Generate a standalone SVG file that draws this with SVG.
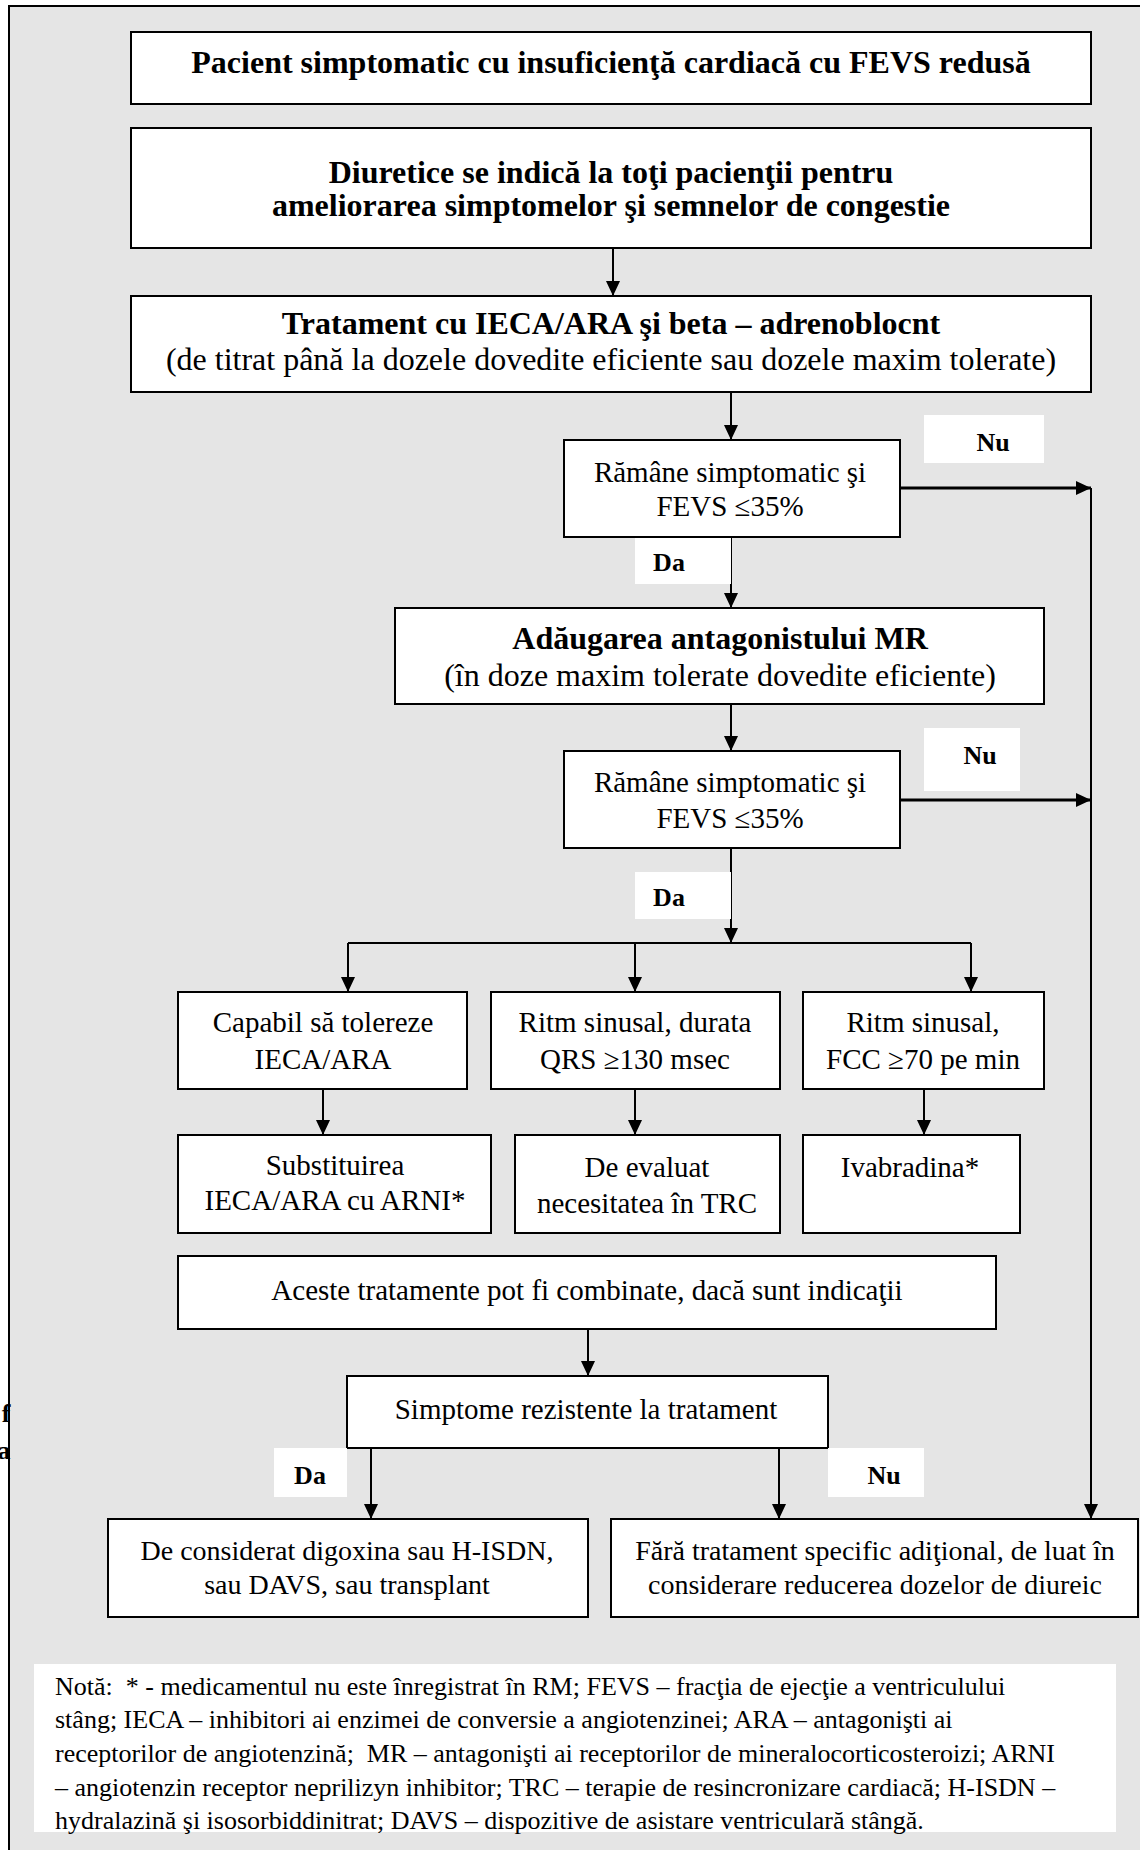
<svg xmlns="http://www.w3.org/2000/svg" width="1140" height="1850" viewBox="0 0 1140 1850">
<style>
.box{fill:#fff;stroke:#000;stroke-width:2}
.lbl{fill:#fff;stroke:none}
.t{font-family:"Liberation Serif","Times New Roman",serif;font-size:29px;fill:#000;text-anchor:middle}
.b{font-weight:bold;font-size:32px}
.r32{font-size:32px}
.r28{font-size:28px}
.lt{font-family:"Liberation Serif","Times New Roman",serif;font-weight:bold;font-size:26px;fill:#000;text-anchor:middle}
.note{font-family:"Liberation Serif","Times New Roman",serif;font-size:26px;fill:#000}
.ln{fill:none;stroke:#000;stroke-width:2}
.thick{stroke-width:3}
</style>
<defs>
<marker id="ah" markerUnits="userSpaceOnUse" markerWidth="16" markerHeight="16" refX="15" refY="7" orient="auto">
<path d="M0,0 L15,7 L0,14 z" fill="#000"/>
</marker>
</defs>
<rect x="0" y="0" width="1140" height="1850" fill="#fff"/>
<rect x="9" y="6" width="1160" height="1880" fill="#e5e5e5" stroke="#000" stroke-width="2"/>
<text class="lt" x="6" y="1422" style="font-size:26px">f</text>
<text class="lt" x="4" y="1459" style="font-size:26px">a</text>

<g id="connectors">
<line class="ln" x1="613" y1="248" x2="613" y2="296" marker-end="url(#ah)"/>
<line class="ln" x1="731" y1="392" x2="731" y2="440" marker-end="url(#ah)"/>
<line class="ln thick" x1="900" y1="488" x2="1091" y2="488" marker-end="url(#ah)"/>
<line class="ln" x1="1091" y1="488" x2="1091" y2="1519" marker-end="url(#ah)"/>
<line class="ln" x1="731" y1="537" x2="731" y2="608" marker-end="url(#ah)"/>
<line class="ln" x1="731" y1="704" x2="731" y2="751" marker-end="url(#ah)"/>
<line class="ln thick" x1="900" y1="800" x2="1091" y2="800" marker-end="url(#ah)"/>
<line class="ln" x1="731" y1="848" x2="731" y2="943" marker-end="url(#ah)"/>
<line class="ln" x1="348" y1="943" x2="971" y2="943"/>
<line class="ln" x1="348" y1="943" x2="348" y2="992" marker-end="url(#ah)"/>
<line class="ln" x1="635" y1="943" x2="635" y2="992" marker-end="url(#ah)"/>
<line class="ln" x1="971" y1="943" x2="971" y2="992" marker-end="url(#ah)"/>
<line class="ln" x1="323" y1="1089" x2="323" y2="1135" marker-end="url(#ah)"/>
<line class="ln" x1="635" y1="1089" x2="635" y2="1135" marker-end="url(#ah)"/>
<line class="ln" x1="924" y1="1089" x2="924" y2="1135" marker-end="url(#ah)"/>
<line class="ln" x1="588" y1="1329" x2="588" y2="1376" marker-end="url(#ah)"/>
<line class="ln" x1="371" y1="1448" x2="371" y2="1519" marker-end="url(#ah)"/>
<line class="ln" x1="779" y1="1448" x2="779" y2="1519" marker-end="url(#ah)"/>
</g>

<g id="n1"><rect class="box" x="131" y="32" width="960" height="72"/>
<text class="t b" x="611" y="73">Pacient simptomatic cu insuficienţă cardiacă cu FEVS redusă</text></g>
<g id="n2"><rect class="box" x="131" y="128" width="960" height="120"/>
<text class="t b" x="611" y="183">Diuretice se indică la toţi pacienţii pentru</text>
<text class="t b" x="611" y="216">ameliorarea simptomelor şi semnelor de congestie</text></g>
<g id="n3"><rect class="box" x="131" y="296" width="960" height="96"/>
<text class="t b" x="611" y="334">Tratament cu IECA/ARA şi beta – adrenoblocnt</text>
<text class="t r32" x="611" y="370">(de titrat până la dozele dovedite eficiente sau dozele maxim tolerate)</text></g>
<g id="n4"><rect class="box" x="564" y="440" width="336" height="97"/>
<text class="t" x="730" y="482">Rămâne simptomatic şi</text>
<text class="t" x="730" y="516">FEVS ≤35%</text></g>
<g id="lblNu1"><rect class="lbl" x="924" y="415" width="120" height="48"/>
<text class="lt" x="993" y="451">Nu</text></g>
<g id="lblDa1"><rect class="lbl" x="635" y="538" width="96" height="46"/>
<text class="lt" x="669" y="571">Da</text></g>
<g id="n5"><rect class="box" x="395" y="608" width="649" height="96"/>
<text class="t b" x="720" y="649">Adăugarea antagonistului MR</text>
<text class="t r32" x="720" y="686">(în doze maxim tolerate dovedite eficiente)</text></g>
<g id="n6"><rect class="box" x="564" y="751" width="336" height="97"/>
<text class="t" x="730" y="792">Rămâne simptomatic şi</text>
<text class="t" x="730" y="828">FEVS ≤35%</text></g>
<g id="lblNu2"><rect class="lbl" x="924" y="728" width="96" height="63"/>
<text class="lt" x="980" y="764">Nu</text></g>
<g id="lblDa2"><rect class="lbl" x="635" y="872" width="96" height="47"/>
<text class="lt" x="669" y="906">Da</text></g>
<g id="nA"><rect class="box" x="178" y="992" width="289" height="97"/>
<text class="t" x="323" y="1032">Capabil să tolereze</text>
<text class="t" x="323" y="1069">IECA/ARA</text></g>
<g id="nB"><rect class="box" x="491" y="992" width="289" height="97"/>
<text class="t" x="635" y="1032">Ritm sinusal, durata</text>
<text class="t" x="635" y="1069">QRS ≥130 msec</text></g>
<g id="nC"><rect class="box" x="803" y="992" width="241" height="97"/>
<text class="t" x="923" y="1032">Ritm sinusal,</text>
<text class="t" x="923" y="1069">FCC ≥70 pe min</text></g>
<g id="nD"><rect class="box" x="178" y="1135" width="313" height="98"/>
<text class="t" x="335" y="1175">Substituirea</text>
<text class="t" x="335" y="1210">IECA/ARA cu ARNI*</text></g>
<g id="nE"><rect class="box" x="515" y="1135" width="265" height="98"/>
<text class="t" x="647" y="1177">De evaluat</text>
<text class="t" x="647" y="1213">necesitatea în TRC</text></g>
<g id="nF"><rect class="box" x="803" y="1135" width="217" height="98"/>
<text class="t" x="910" y="1177">Ivabradina*</text></g>
<g id="nG"><rect class="box" x="178" y="1256" width="818" height="73"/>
<text class="t" x="587" y="1300">Aceste tratamente pot fi combinate, dacă sunt indicaţii</text></g>
<g id="nH"><rect class="box" x="347" y="1376" width="481" height="72"/>
<text class="t" x="586" y="1419">Simptome rezistente la tratament</text></g>
<g id="lblDa3"><rect class="lbl" x="274" y="1448" width="73" height="49"/>
<text class="lt" x="310" y="1484">Da</text></g>
<g id="lblNu3"><rect class="lbl" x="828" y="1448" width="96" height="49"/>
<text class="lt" x="884" y="1484">Nu</text></g>
<g id="nI"><rect class="box" x="108" y="1519" width="480" height="98"/>
<text class="t r28" x="347" y="1560">De considerat digoxina sau H-ISDN,</text>
<text class="t r28" x="347" y="1594">sau DAVS, sau transplant</text></g>
<g id="nJ"><rect class="box" x="611" y="1519" width="527" height="98"/>
<text class="t r28" x="875" y="1560">Fără tratament specific adiţional, de luat în</text>
<text class="t r28" x="875" y="1594">considerare reducerea dozelor de diureic</text></g>
<g id="note"><rect class="lbl" x="34" y="1664" width="1082" height="168"/>
<text class="note" x="55" y="1695" xml:space="preserve">Notă:  * - medicamentul nu este înregistrat în RM; FEVS – fracţia de ejecţie a ventriculului</text>
<text class="note" x="55" y="1728">stâng; IECA – inhibitori ai enzimei de conversie a angiotenzinei; ARA – antagonişti ai</text>
<text class="note" x="55" y="1762" xml:space="preserve">receptorilor de angiotenzină;  MR – antagonişti ai receptorilor de mineralocorticosteroizi; ARNI</text>
<text class="note" x="55" y="1796">– angiotenzin receptor neprilizyn inhibitor; TRC – terapie de resincronizare cardiacă; H-ISDN –</text>
<text class="note" x="55" y="1829">hydralazină şi isosorbiddinitrat; DAVS – dispozitive de asistare ventriculară stângă.</text></g>
</svg>
